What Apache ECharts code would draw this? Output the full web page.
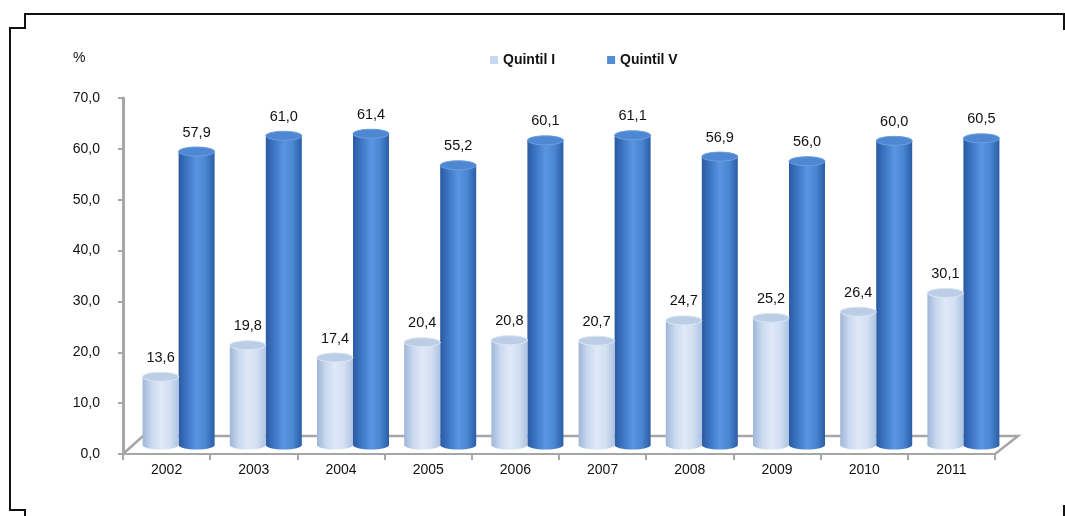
<!DOCTYPE html>
<html><head><meta charset="utf-8">
<script src="https://cdn.jsdelivr.net/npm/echarts@6/dist/echarts.min.js"></script>
<style>html,body{margin:0;padding:0;background:#fff}#c{width:1065px;height:516px}</style>
</head><body><div id="c"></div>
<script>
const categories = ['2002','2003','2004','2005','2006','2007','2008','2009','2010','2011'];
const quintilI = [13.6,19.8,17.4,20.4,20.8,20.7,24.7,25.2,26.4,30.1];
const quintilV = [57.9,61.0,61.4,55.2,60.1,61.1,56.9,56.0,60.0,60.5];
const seriesNames = ['Quintil I','Quintil V'];
const yTicks = {min:0, max:70, interval:10};

const fmt = v => v.toFixed(1).replace('.', ',');
const DX = 12, DY = -8, R = 18, RY = 4.5;

function grad(stops){
  return new echarts.graphic.LinearGradient(0,0,1,0, stops.map((c,i)=>({offset:i/(stops.length-1), color:c})));
}
const styles = [
  {body:['#9fb6d8','#c9d9ef','#dfe9f8','#d3e0f3','#aec3e2'], top:'#bccde6', topStroke:'#dbe6f5', off:-R},
  {body:['#2a5aa3','#3f78c6','#5995e0','#4a86d2','#2b5da6'], top:'#4f88d2', topStroke:'#6d9fe0', off:R}
];

function cyl(si){
  return function(params, api){
    const c = api.value(0), v = api.value(1);
    const p = api.coord([c, v]);
    const b = api.coord([c, 0]);
    const st = styles[si];
    const cx = p[0] + DX + st.off;
    const top = p[1] + DY;
    const bot = b[1] + DY - 1;
    return {type:'group', children:[
      {type:'rect', shape:{x:cx-R, y:top, width:2*R, height:bot-top}, style:{fill:grad(st.body)}},
      {type:'ellipse', shape:{cx:cx, cy:bot, rx:R, ry:RY}, style:{fill:grad(st.body)}},
      {type:'ellipse', shape:{cx:cx, cy:top, rx:R, ry:RY}, style:{fill:st.top, stroke:st.topStroke, lineWidth:1}},
      {type:'text', x:cx, y:top-RY-7, style:{text:fmt(v), align:'center', verticalAlign:'bottom', fill:'#111', font:'14.5px "Liberation Sans", Arial, sans-serif'}}
    ]};
  };
}

const chart = echarts.init(document.getElementById('c'), null, {renderer:'canvas'});
chart.setOption({
  animation:false,
  backgroundColor:'#fff',
  textStyle:{fontFamily:'"Liberation Sans", Arial, sans-serif'},
  grid:{left:123, right:70, top:98, bottom:62},
  legend:{
    data:seriesNames, left:490, top:53, padding:0, icon:'rect', itemWidth:8, itemHeight:8, itemGap:52,
    textStyle:{fontSize:14, fontWeight:'bold', color:'#111', fontFamily:'"Liberation Sans", Arial, sans-serif'}
  },
  graphic:[
    {type:'polyline', shape:{points:[[1064,30],[1064,14],[25,14],[25,28],[10,28],[10,510],[25,510],[25,516]]}, style:{stroke:'#111', lineWidth:2, fill:null}},
    {type:'line', shape:{x1:1064,y1:505,x2:1064,y2:516}, style:{stroke:'#111', lineWidth:2}},
    {type:'text', left:73, top:51, style:{text:'%', font:'14px "Liberation Sans", Arial, sans-serif', fill:'#111'}}
  ],
  xAxis:{
    type:'category', data:categories, boundaryGap:true,
    axisLine:{lineStyle:{color:'#a6a6a6', width:2}},
    axisTick:{show:true, length:6, lineStyle:{color:'#a6a6a6', width:2}},
    axisLabel:{margin:9, fontSize:14, color:'#111'}
  },
  yAxis:{
    type:'value', min:yTicks.min, max:yTicks.max, interval:yTicks.interval,
    axisLine:{show:true, lineStyle:{color:'#a6a6a6', width:3}},
    axisTick:{show:true, length:5, lineStyle:{color:'#a6a6a6', width:2}},
    splitLine:{show:false},
    axisLabel:{margin:23, fontSize:14, color:'#111', formatter:v=>fmt(v)}
  },
  series:[
    {type:'custom', name:'floor', silent:true, data:[[0,0]], z:1,
      renderItem:function(params, api){
        const cs = params.coordSys;
        const y0 = cs.y + cs.height, x0 = cs.x, x1 = cs.x + cs.width;
        return {type:'polyline', shape:{points:[[x0,y0],[x0+20,y0-18],[x1+23,y0-18],[x1,y0]]}, style:{stroke:'#a6a6a6', lineWidth:2.5, fill:null}};
      }},
    {type:'custom', name:seriesNames[0], z:3, itemStyle:{color:'#c6d9f1'}, renderItem:cyl(0),
      data:quintilI.map((v,i)=>[i,v])},
    {type:'custom', name:seriesNames[1], z:2, itemStyle:{color:'#558ed5'}, renderItem:cyl(1),
      data:quintilV.map((v,i)=>[i,v])}
  ]
});
</script></body></html>
